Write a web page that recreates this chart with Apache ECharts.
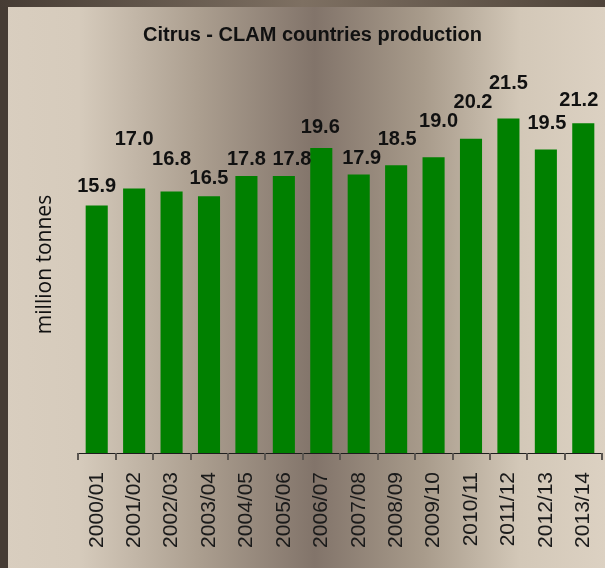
<!DOCTYPE html>
<html>
<head>
<meta charset="utf-8">
<script src="https://cdn.jsdelivr.net/npm/echarts@6/dist/echarts.min.js"></script>
<style>
  html, body { margin: 0; padding: 0; }
  #chart { width: 605px; height: 568px; }
</style>
</head>
<body>
<div id="chart"></div>
<script>
// Citrus production of the CLAM countries, million tonnes per season
const seasons = ['2000/01', '2001/02', '2002/03', '2003/04', '2004/05', '2005/06', '2006/07',
                 '2007/08', '2008/09', '2009/10', '2010/11', '2011/12', '2012/13', '2013/14'];
const production = [15.9, 17.0, 16.8, 16.5, 17.8, 17.8, 19.6, 17.9, 18.5, 19.0, 20.2, 21.5, 19.5, 21.2];
const chartTitle = 'Citrus - CLAM countries production';
const unitName = 'million tonnes';
const valueMax = 25;

// Value labels sit at staggered heights above their bars: [dx, lift] in pixels
const labelNudge = [[0, 9], [0, 39], [0, 22], [0, 7.5], [0, 7], [8, 7], [-1, 11],
                    [3, 5.5], [1, 15.5], [5, 26], [2, 26], [0, 25], [1, 16], [-4.5, 12.5]];

const chart = echarts.init(document.getElementById('chart'));

const barData = production.map((v, i) => ({
  value: v,
  label: { offset: [labelNudge[i][0], -labelNudge[i][1]] }
}));

chart.setOption({
  animation: false,
  backgroundColor: {
    type: 'linear', x: 0, y: 0, x2: 1, y2: 0,
    colorStops: [
      { offset: 0.0, color: '#d9cebf' },
      { offset: 0.13, color: '#d6cbbc' },
      { offset: 0.33, color: '#ab9e8f' },
      { offset: 0.52, color: '#82746a' },
      { offset: 0.70, color: '#a89b8b' },
      { offset: 0.86, color: '#d3c8b8' },
      { offset: 1.0, color: '#dcd1c2' }
    ]
  },
  graphic: [
    { type: 'rect', left: 0, top: 0, z: 100, shape: { width: 8, height: 568 }, style: { fill: '#463c34' } },
    {
      type: 'rect', left: 0, top: 0, z: 100, shape: { width: 605, height: 7 },
      style: {
        fill: {
          type: 'linear', x: 0, y: 0, x2: 1, y2: 0,
          colorStops: [
            { offset: 0, color: '#463c34' },
            { offset: 0.5, color: '#7e7062' },
            { offset: 1, color: '#4e4339' }
          ]
        }
      }
    }
  ],
  title: {
    text: chartTitle,
    left: 138,
    top: 20,
    textStyle: { fontFamily: 'Liberation Sans', fontWeight: 'bold', fontSize: 20, color: '#111' }
  },
  grid: { left: 78, right: 3, top: 64, bottom: 115, containLabel: false },
  xAxis: {
    type: 'category',
    data: seasons,
    boundaryGap: true,
    axisLine: { show: true, lineStyle: { color: '#1e1e1e', width: 1 } },
    axisTick: { show: true, length: 7, lineStyle: { color: '#5a5550', width: 2 } },
    axisLabel: {
      rotate: 90, margin: 19, interval: 0,
      fontFamily: 'Liberation Sans', fontSize: 21, color: '#1a1a1a'
    }
  },
  yAxis: {
    type: 'value',
    min: 0, max: valueMax,
    name: unitName,
    nameLocation: 'middle',
    nameRotate: 90,
    nameGap: 22,
    nameTextStyle: { fontFamily: 'Open Sans', fontSize: 21, color: '#111', padding: [0, 12, 0, 0] },
    axisLine: { show: false },
    axisTick: { show: false },
    axisLabel: { show: false },
    splitLine: { show: false }
  },
  series: [{
    type: 'bar',
    data: barData,
    barWidth: '59%',
    itemStyle: { color: '#008000' },
    label: {
      show: true,
      position: 'top',
      distance: 0,
      formatter: p => p.value.toFixed(1),
      fontFamily: 'Liberation Sans', fontWeight: 'bold', fontSize: 20, color: '#111'
    }
  }]
});
</script>
</body>
</html>
